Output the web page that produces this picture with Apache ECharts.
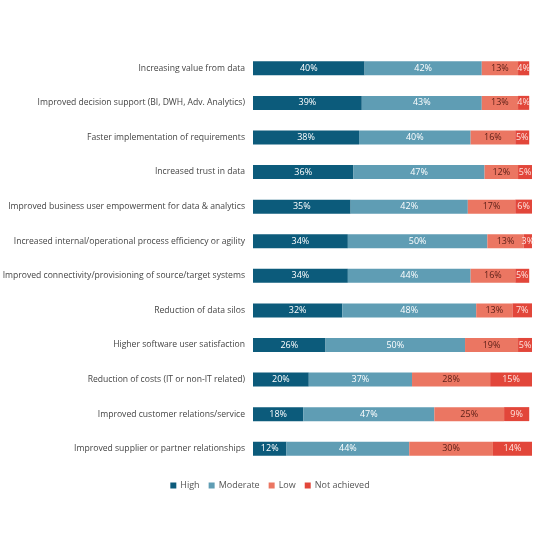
<!DOCTYPE html>
<html><head><meta charset="utf-8">
<script src="https://cdn.jsdelivr.net/npm/echarts@6/dist/echarts.min.js"></script>
<style>html,body{margin:0;padding:0;background:#fff}#c{width:540px;height:540px}</style>
</head><body><div id="c"></div>
<script>
const categories = [
  "Increasing value from data",
  "Improved decision support (BI, DWH, Adv. Analytics)",
  "Faster implementation of requirements",
  "Increased trust in data",
  "Improved business user empowerment for data & analytics",
  "Increased internal/operational process efficiency or agility",
  "Improved connectivity/provisioning of source/target systems",
  "Reduction of data silos",
  "Higher software user satisfaction",
  "Reduction of costs (IT or non-IT related)",
  "Improved customer relations/service",
  "Improved supplier or partner relationships"
];
const high = [40,39,38,36,35,34,34,32,26,20,18,12];
const moderate = [42,43,40,47,42,50,44,48,50,37,47,44];
const low = [13,13,16,12,17,13,16,13,19,28,25,30];
const notAchieved = [4,4,5,5,6,3,5,7,5,15,9,14];
const seriesNames = ["High","Moderate","Low","Not achieved"];
const colors = ["#0c5b7b","#5f9db4","#eb7662","#e2463a"];
const labelColors = ["#ffffff","#ffffff","#5a1e16","#fde4df"];
const allData = [high, moderate, low, notAchieved];

const chart = echarts.init(document.getElementById('c'));
chart.setOption({
  animation:false,
  grid:{left:253, right:8, top:51, height:415, containLabel:false, outerBoundsMode:'none'},
  legend:{
    data:seriesNames, top:476, left:'center', itemWidth:6, itemHeight:6, itemGap:9,
    icon:'rect', textStyle:{fontFamily:'Open Sans', fontSize:9, color:'#555', padding:[0,0,0,-1]}
  },
  xAxis:{type:'value', min:0, max:100, show:false},
  yAxis:{
    type:'category', data:categories, inverse:true,
    axisLine:{show:false}, axisTick:{show:false},
    axisLabel:{fontFamily:'Open Sans', fontSize:8.6, color:'#444', margin:8}
  },
  series: allData.map((d,i)=>({
    name:seriesNames[i], type:'bar', stack:'total', data:d, barWidth:14,
    itemStyle:{color:colors[i]},
    label:{show:true, position:'inside', formatter:'{c}%', fontFamily:'Open Sans', fontSize:9, color:labelColors[i]}
  }))
});
</script></body></html>
